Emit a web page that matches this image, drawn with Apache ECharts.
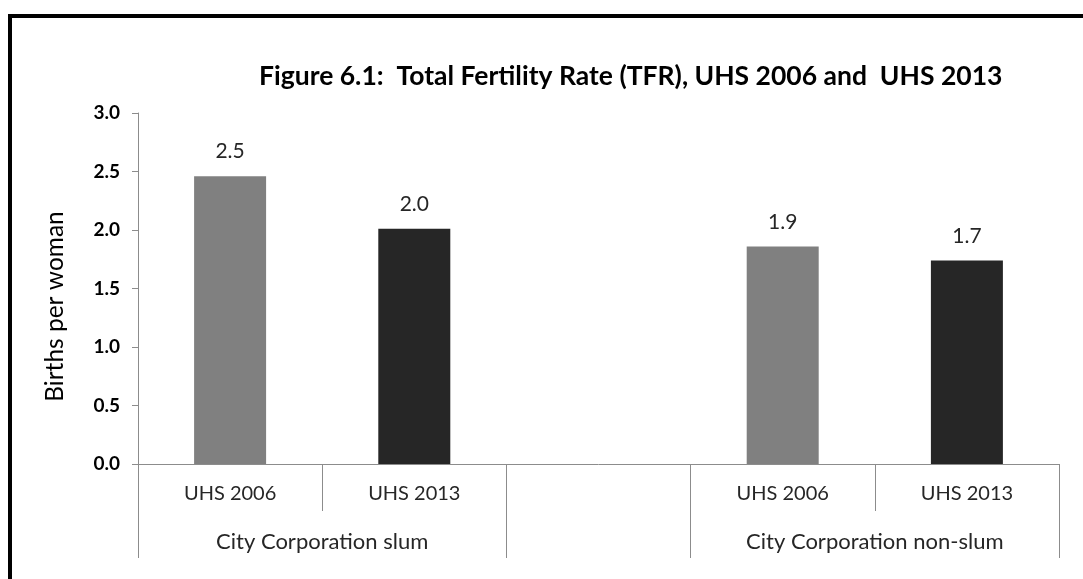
<!DOCTYPE html>
<html>
<head>
<meta charset="utf-8">
<script src="https://cdn.jsdelivr.net/npm/echarts@6/dist/echarts.min.js"></script>
<style>
  html, body { margin: 0; padding: 0; background: #fff; }
  #chart { width: 1083px; height: 579px; }
</style>
</head>
<body>
<div id="chart"></div>
<script>
// categories on the first row of the x axis (empty slot separates the groups)
const categories = ['UHS 2006', 'UHS 2013', '', 'UHS 2006', 'UHS 2013']
// second row: labels sit on the boundaries, so 6 points for 5 slots
const groups = ['', 'City Corporation slum', '', '', 'City Corporation non-slum', '']
const surveyYear = ['2006', '2013', '', '2006', '2013']
const tfr = [2.46, 2.01, null, 1.86, 1.74]
const yTicks = [0, 0.5, 1.0, 1.5, 2.0, 2.5, 3.0]

const yearColor = { '2006': '#808080', '2013': '#262626' }
const axisGrey = '#8c8c8c'
const font = 'Lato, "Open Sans", sans-serif'

const chart = echarts.init(document.getElementById('chart'))

const barData = tfr.map((v, i) => {
	if (v === null) return '-'
	return { value: v, itemStyle: { color: yearColor[surveyYear[i]] } }
})

const option = {
	animation: false,
	backgroundColor: '#fff',
	title: {
		text: 'Figure 6.1:  Total Fertility Rate (TFR), UHS 2006 and  UHS 2013',
		left: 254,
		top: 58,
		textStyle: {
			fontFamily: font,
			fontWeight: 'bold',
			fontSize: 26.5,
			color: '#000',
		},
	},
	graphic: [
		{
			type: 'rect',
			shape: { x: 10, y: 16, width: 1300, height: 900 },
			style: { fill: 'none', stroke: '#000', lineWidth: 4 },
			silent: true,
		},
	],
	grid: {
		left: 138,
		right: 24,
		top: 113,
		bottom: 115,
	},
	xAxis: [
		{
			type: 'category',
			data: categories,
			axisLine: { show: true, lineStyle: { color: axisGrey, width: 1 } },
			axisTick: { show: true, interval: 0, length: 47, lineStyle: { color: axisGrey } },
			axisLabel: {
				interval: 0,
				margin: 20,
				fontFamily: font,
				fontSize: 20,
				color: '#262626',
			},
		},
		{
			type: 'category',
			position: 'bottom',
			boundaryGap: false,
			data: groups,
			axisLine: { show: false },
			axisTick: {
				show: true,
				length: 94,
				interval: function(index) {
					return index !== 1 && index !== 4
				},
				lineStyle: { color: axisGrey },
			},
			axisLabel: {
				interval: 0,
				margin: 67,
				fontFamily: font,
				fontSize: 22,
				color: '#262626',
			},
		},
	],
	yAxis: {
		type: 'value',
		min: yTicks[0],
		max: yTicks[yTicks.length - 1],
		interval: 0.5,
		name: 'Births per woman',
		nameLocation: 'middle',
		nameGap: 70,
		nameTextStyle: {
			fontFamily: font,
			fontSize: 24.5,
			color: '#000',
			padding: [0, 36, 0, 0],
		},
		axisLine: { show: true, lineStyle: { color: axisGrey } },
		axisTick: { show: true, length: 6, lineStyle: { color: axisGrey } },
		splitLine: { show: false },
		axisLabel: {
			margin: 18,
			fontFamily: font,
			fontWeight: 'bold',
			fontSize: 19,
			color: '#000',
			formatter: v => v.toFixed(1),
		},
	},
	series: [
		{
			type: 'bar',
			xAxisIndex: 0,
			barWidth: 72,
			data: barData,
			label: {
				show: true,
				position: 'top',
				distance: 14,
				fontFamily: font,
				fontSize: 21,
				color: '#262626',
				formatter: p => p.value.toFixed(1),
			},
		},
	],
}

chart.setOption(option)
</script>
</body>
</html>
